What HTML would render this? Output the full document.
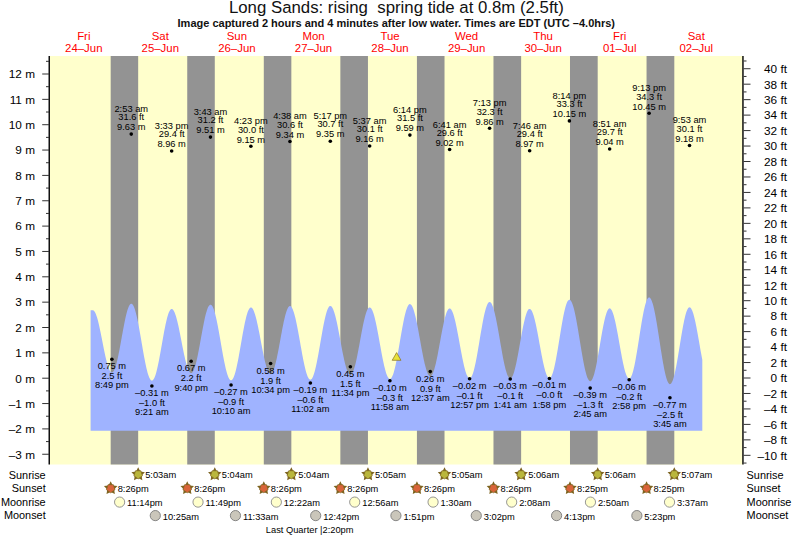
<!DOCTYPE html><html><head><meta charset="utf-8"><style>html,body{margin:0;padding:0;background:#fff;width:793px;height:538px;overflow:hidden}svg{display:block}text{font-family:"Liberation Sans",sans-serif}</style></head><body>
<svg width="793" height="538" viewBox="0 0 793 538">
<rect x="0" y="0" width="793" height="538" fill="#fff"/>
<rect x="49.5" y="56.0" width="693.5" height="408.5" fill="#ffffcc"/>
<rect x="110.68" y="56.0" width="27.49" height="408.5" fill="#939393"/>
<rect x="187.24" y="56.0" width="27.54" height="408.5" fill="#939393"/>
<rect x="263.80" y="56.0" width="27.54" height="408.5" fill="#939393"/>
<rect x="340.36" y="56.0" width="27.59" height="408.5" fill="#939393"/>
<rect x="416.92" y="56.0" width="27.59" height="408.5" fill="#939393"/>
<rect x="493.48" y="56.0" width="27.65" height="408.5" fill="#939393"/>
<rect x="569.99" y="56.0" width="27.70" height="408.5" fill="#939393"/>
<rect x="646.55" y="56.0" width="27.75" height="408.5" fill="#939393"/>
<path d="M90.60,430.80 L90.60,310.27 91.13,310.27 91.66,310.27 92.20,310.27 92.73,310.27 93.26,310.35 93.79,310.67 94.32,311.23 94.86,312.01 95.39,313.02 95.92,314.25 96.45,315.68 96.98,317.31 97.51,319.12 98.05,321.11 98.58,323.25 99.11,325.52 99.64,327.92 100.17,330.42 100.71,333.00 101.24,335.65 101.77,338.34 102.30,341.06 102.83,343.77 103.37,346.47 103.90,349.13 104.43,351.73 104.96,354.25 105.49,356.67 106.03,358.97 106.56,361.14 107.09,363.15 107.62,365.00 108.15,366.67 108.69,368.15 109.22,369.41 109.75,370.47 110.28,371.30 110.81,371.90 111.34,372.27 111.88,372.40 112.41,372.29 112.94,371.92 113.47,371.30 114.00,370.43 114.54,369.32 115.07,367.98 115.60,366.41 116.13,364.64 116.66,362.66 117.20,360.51 117.73,358.18 118.26,355.71 118.79,353.10 119.32,350.39 119.86,347.58 120.39,344.70 120.92,341.77 121.45,338.82 121.98,335.85 122.51,332.91 123.05,330.00 123.58,327.16 124.11,324.39 124.64,321.73 125.17,319.19 125.71,316.79 126.24,314.55 126.77,312.48 127.30,310.61 127.83,308.94 128.37,307.49 128.90,306.26 129.43,305.27 129.96,304.53 130.49,304.04 131.03,303.80 131.56,303.81 132.09,304.08 132.62,304.60 133.15,305.36 133.68,306.37 134.22,307.61 134.75,309.07 135.28,310.76 135.81,312.65 136.34,314.73 136.88,317.00 137.41,319.43 137.94,322.01 138.47,324.72 139.00,327.54 139.54,330.46 140.07,333.46 140.60,336.52 141.13,339.61 141.66,342.72 142.20,345.83 142.73,348.91 143.26,351.95 143.79,354.92 144.32,357.81 144.86,360.60 145.39,363.27 145.92,365.80 146.45,368.17 146.98,370.37 147.51,372.39 148.05,374.21 148.58,375.82 149.11,377.21 149.64,378.37 150.17,379.30 150.71,379.98 151.24,380.41 151.77,380.59 152.30,380.52 152.83,380.19 153.37,379.61 153.90,378.78 154.43,377.71 154.96,376.41 155.49,374.88 156.03,373.13 156.56,371.18 157.09,369.04 157.62,366.73 158.15,364.27 158.68,361.66 159.22,358.94 159.75,356.11 160.28,353.20 160.81,350.23 161.34,347.22 161.88,344.20 162.41,341.18 162.94,338.18 163.47,335.24 164.00,332.36 164.54,329.56 165.07,326.88 165.60,324.33 166.13,321.92 166.66,319.67 167.20,317.60 167.73,315.73 168.26,314.06 168.79,312.62 169.32,311.40 169.86,310.42 170.39,309.69 170.92,309.20 171.45,308.97 171.98,308.99 172.51,309.25 173.05,309.74 173.58,310.46 174.11,311.40 174.64,312.56 175.17,313.93 175.71,315.50 176.24,317.25 176.77,319.18 177.30,321.27 177.83,323.50 178.37,325.86 178.90,328.33 179.43,330.89 179.96,333.53 180.49,336.22 181.03,338.95 181.56,341.69 182.09,344.43 182.62,347.14 183.15,349.81 183.68,352.41 184.22,354.93 184.75,357.34 185.28,359.64 185.81,361.80 186.34,363.81 186.88,365.64 187.41,367.30 187.94,368.77 188.47,370.03 189.00,371.08 189.54,371.91 190.07,372.51 190.60,372.88 191.13,373.02 191.66,372.91 192.20,372.55 192.73,371.94 193.26,371.08 193.79,369.97 194.32,368.64 194.85,367.08 195.39,365.31 195.92,363.34 196.45,361.19 196.98,358.87 197.51,356.40 198.05,353.80 198.58,351.08 199.11,348.28 199.64,345.41 200.17,342.48 200.71,339.53 201.24,336.57 201.77,333.64 202.30,330.74 202.83,327.90 203.37,325.14 203.90,322.49 204.43,319.96 204.96,317.57 205.49,315.34 206.03,313.28 206.56,311.42 207.09,309.76 207.62,308.32 208.15,307.11 208.68,306.14 209.22,305.42 209.75,304.94 210.28,304.72 210.81,304.75 211.34,305.03 211.88,305.56 212.41,306.33 212.94,307.34 213.47,308.59 214.00,310.05 214.54,311.73 215.07,313.61 215.60,315.69 216.13,317.94 216.66,320.35 217.20,322.90 217.73,325.59 218.26,328.39 218.79,331.28 219.32,334.25 219.85,337.26 220.39,340.32 220.92,343.39 221.45,346.45 221.98,349.49 222.51,352.48 223.05,355.40 223.58,358.24 224.11,360.97 224.64,363.59 225.17,366.06 225.71,368.38 226.24,370.53 226.77,372.49 227.30,374.26 227.83,375.82 228.37,377.15 228.90,378.26 229.43,379.13 229.96,379.76 230.49,380.15 231.03,380.29 231.56,380.17 232.09,379.80 232.62,379.17 233.15,378.29 233.68,377.17 234.22,375.81 234.75,374.22 235.28,372.42 235.81,370.42 236.34,368.22 236.88,365.86 237.41,363.34 237.94,360.68 238.47,357.90 239.00,355.03 239.54,352.07 240.07,349.06 240.60,346.00 241.13,342.94 241.66,339.88 242.20,336.85 242.73,333.87 243.26,330.96 243.79,328.14 244.32,325.43 244.85,322.86 245.39,320.43 245.92,318.17 246.45,316.09 246.98,314.21 247.51,312.54 248.05,311.10 248.58,309.88 249.11,308.91 249.64,308.18 250.17,307.71 250.71,307.50 251.24,307.54 251.77,307.81 252.30,308.32 252.83,309.07 253.37,310.04 253.90,311.23 254.43,312.63 254.96,314.23 255.49,316.02 256.02,317.98 256.56,320.11 257.09,322.39 257.62,324.79 258.15,327.31 258.68,329.92 259.22,332.62 259.75,335.36 260.28,338.15 260.81,340.95 261.34,343.75 261.88,346.53 262.41,349.27 262.94,351.94 263.47,354.53 264.00,357.03 264.54,359.40 265.07,361.64 265.60,363.73 266.13,365.65 266.66,367.39 267.20,368.95 267.73,370.29 268.26,371.43 268.79,372.34 269.32,373.03 269.85,373.48 270.39,373.70 270.92,373.67 271.45,373.40 271.98,372.88 272.51,372.11 273.05,371.10 273.58,369.86 274.11,368.39 274.64,366.71 275.17,364.84 275.71,362.77 276.24,360.54 276.77,358.15 277.30,355.62 277.83,352.98 278.37,350.24 278.90,347.42 279.43,344.55 279.96,341.64 280.49,338.72 281.02,335.80 281.56,332.92 282.09,330.09 282.62,327.33 283.15,324.67 283.68,322.11 284.22,319.69 284.75,317.43 285.28,315.32 285.81,313.40 286.34,311.68 286.88,310.17 287.41,308.88 287.94,307.82 288.47,307.00 289.00,306.42 289.54,306.09 290.07,306.02 290.60,306.19 291.13,306.61 291.66,307.27 292.20,308.17 292.73,309.30 293.26,310.66 293.79,312.23 294.32,314.00 294.85,315.97 295.39,318.12 295.92,320.44 296.45,322.90 296.98,325.50 297.51,328.22 298.05,331.03 298.58,333.92 299.11,336.87 299.64,339.86 300.17,342.87 300.71,345.88 301.24,348.87 301.77,351.82 302.30,354.71 302.83,357.52 303.37,360.24 303.90,362.83 304.43,365.29 304.96,367.60 305.49,369.75 306.02,371.72 306.56,373.49 307.09,375.06 307.62,376.41 308.15,377.53 308.68,378.43 309.22,379.08 309.75,379.50 310.28,379.66 310.81,379.58 311.34,379.24 311.88,378.64 312.41,377.80 312.94,376.70 313.47,375.37 314.00,373.81 314.54,372.03 315.07,370.05 315.60,367.87 316.13,365.52 316.66,363.01 317.19,360.36 317.73,357.58 318.26,354.70 318.79,351.74 319.32,348.72 319.85,345.65 320.39,342.56 320.92,339.48 321.45,336.42 321.98,333.40 322.51,330.45 323.05,327.58 323.58,324.82 324.11,322.19 324.64,319.71 325.17,317.38 325.71,315.24 326.24,313.28 326.77,311.54 327.30,310.01 327.83,308.72 328.37,307.66 328.90,306.85 329.43,306.29 329.96,305.99 330.49,305.95 331.02,306.15 331.56,306.59 332.09,307.26 332.62,308.16 333.15,309.28 333.68,310.63 334.22,312.17 334.75,313.91 335.28,315.84 335.81,317.94 336.34,320.19 336.88,322.58 337.41,325.09 337.94,327.71 338.47,330.42 339.00,333.20 339.54,336.03 340.07,338.88 340.60,341.75 341.13,344.61 341.66,347.43 342.19,350.21 342.73,352.92 343.26,355.54 343.79,358.06 344.32,360.45 344.85,362.70 345.39,364.80 345.92,366.73 346.45,368.47 346.98,370.02 347.51,371.36 348.05,372.49 348.58,373.39 349.11,374.07 349.64,374.51 350.17,374.71 350.71,374.67 351.24,374.38 351.77,373.84 352.30,373.05 352.83,372.03 353.37,370.77 353.90,369.29 354.43,367.60 354.96,365.71 355.49,363.63 356.02,361.39 356.56,358.99 357.09,356.46 357.62,353.82 358.15,351.07 358.68,348.26 359.22,345.39 359.75,342.48 360.28,339.57 360.81,336.67 361.34,333.80 361.88,330.98 362.41,328.25 362.94,325.60 363.47,323.07 364.00,320.68 364.54,318.44 365.07,316.37 365.60,314.49 366.13,312.80 366.66,311.33 367.19,310.07 367.73,309.05 368.26,308.27 368.79,307.74 369.32,307.46 369.85,307.42 370.39,307.63 370.92,308.09 371.45,308.78 371.98,309.71 372.51,310.86 373.05,312.23 373.58,313.82 374.11,315.60 374.64,317.58 375.17,319.72 375.71,322.03 376.24,324.48 376.77,327.05 377.30,329.74 377.83,332.52 378.36,335.37 378.90,338.27 379.43,341.21 379.96,344.16 380.49,347.11 381.02,350.02 381.56,352.89 382.09,355.70 382.62,358.42 383.15,361.04 383.68,363.53 384.22,365.89 384.75,368.09 385.28,370.12 385.81,371.97 386.34,373.63 386.88,375.07 387.41,376.30 387.94,377.31 388.47,378.08 389.00,378.62 389.54,378.91 390.07,378.96 390.60,378.76 391.13,378.29 391.66,377.57 392.19,376.59 392.73,375.37 393.26,373.92 393.79,372.24 394.32,370.34 394.85,368.24 395.39,365.96 395.92,363.50 396.45,360.89 396.98,358.15 397.51,355.29 398.05,352.34 398.58,349.30 399.11,346.22 399.64,343.10 400.17,339.97 400.71,336.85 401.24,333.77 401.77,330.74 402.30,327.78 402.83,324.92 403.36,322.18 403.90,319.57 404.43,317.11 404.96,314.83 405.49,312.73 406.02,310.83 406.56,309.15 407.09,307.69 407.62,306.47 408.15,305.49 408.68,304.77 409.22,304.30 409.75,304.09 410.28,304.14 410.81,304.43 411.34,304.97 411.88,305.74 412.41,306.74 412.94,307.96 413.47,309.40 414.00,311.05 414.54,312.90 415.07,314.93 415.60,317.12 416.13,319.48 416.66,321.97 417.19,324.58 417.73,327.30 418.26,330.11 418.79,332.98 419.32,335.90 419.85,338.85 420.39,341.81 420.92,344.75 421.45,347.67 421.98,350.53 422.51,353.33 423.05,356.03 423.58,358.63 424.11,361.11 424.64,363.44 425.17,365.62 425.71,367.62 426.24,369.44 426.77,371.07 427.30,372.48 427.83,373.68 428.36,374.65 428.90,375.39 429.43,375.89 429.96,376.15 430.49,376.17 431.02,375.94 431.56,375.45 432.09,374.72 432.62,373.75 433.15,372.55 433.68,371.12 434.22,369.47 434.75,367.62 435.28,365.59 435.81,363.38 436.34,361.02 436.88,358.51 437.41,355.89 437.94,353.16 438.47,350.35 439.00,347.49 439.53,344.58 440.07,341.66 440.60,338.74 441.13,335.86 441.66,333.01 442.19,330.24 442.73,327.56 443.26,324.99 443.79,322.55 444.32,320.25 444.85,318.12 445.39,316.17 445.92,314.42 446.45,312.87 446.98,311.54 447.51,310.45 448.05,309.59 448.58,308.97 449.11,308.60 449.64,308.49 450.17,308.62 450.71,308.99 451.24,309.61 451.77,310.46 452.30,311.54 452.83,312.85 453.36,314.36 453.90,316.09 454.43,318.00 454.96,320.09 455.49,322.34 456.02,324.74 456.56,327.27 457.09,329.91 457.62,332.65 458.15,335.46 458.68,338.33 459.22,341.23 459.75,344.15 460.28,347.06 460.81,349.95 461.34,352.79 461.88,355.57 462.41,358.26 462.94,360.85 463.47,363.32 464.00,365.65 464.53,367.82 465.07,369.82 465.60,371.64 466.13,373.26 466.66,374.67 467.19,375.87 467.73,376.83 468.26,377.57 468.79,378.06 469.32,378.32 469.85,378.33 470.39,378.07 470.92,377.55 471.45,376.77 471.98,375.73 472.51,374.45 473.05,372.93 473.58,371.17 474.11,369.20 474.64,367.03 475.17,364.67 475.71,362.14 476.24,359.46 476.77,356.64 477.30,353.70 477.83,350.68 478.36,347.58 478.90,344.42 479.43,341.24 479.96,338.05 480.49,334.87 481.02,331.74 481.56,328.66 482.09,325.66 482.62,322.76 483.15,319.98 483.68,317.35 484.22,314.87 484.75,312.57 485.28,310.47 485.81,308.57 486.34,306.89 486.88,305.45 487.41,304.24 487.94,303.29 488.47,302.60 489.00,302.16 489.53,302.00 490.07,302.09 490.60,302.44 491.13,303.03 491.66,303.86 492.19,304.94 492.73,306.24 493.26,307.77 493.79,309.51 494.32,311.45 494.85,313.59 495.39,315.89 495.92,318.36 496.45,320.96 496.98,323.70 497.51,326.54 498.05,329.48 498.58,332.48 499.11,335.53 499.64,338.62 500.17,341.71 500.70,344.80 501.24,347.85 501.77,350.86 502.30,353.79 502.83,356.64 503.36,359.38 503.90,361.99 504.43,364.46 504.96,366.77 505.49,368.91 506.02,370.86 506.56,372.60 507.09,374.14 507.62,375.45 508.15,376.53 508.68,377.38 509.22,377.98 509.75,378.33 510.28,378.43 510.81,378.28 511.34,377.87 511.88,377.21 512.41,376.29 512.94,375.14 513.47,373.75 514.00,372.14 514.53,370.32 515.07,368.30 515.60,366.10 516.13,363.73 516.66,361.22 517.19,358.57 517.73,355.81 518.26,352.97 518.79,350.05 519.32,347.09 519.85,344.10 520.39,341.10 520.92,338.13 521.45,335.20 521.98,332.33 522.51,329.54 523.05,326.86 523.58,324.30 524.11,321.89 524.64,319.64 525.17,317.56 525.70,315.68 526.24,314.01 526.77,312.55 527.30,311.33 527.83,310.35 528.36,309.61 528.90,309.12 529.43,308.89 529.96,308.92 530.49,309.19 531.02,309.71 531.56,310.48 532.09,311.47 532.62,312.70 533.15,314.15 533.68,315.80 534.22,317.66 534.75,319.70 535.28,321.91 535.81,324.27 536.34,326.78 536.88,329.40 537.41,332.12 537.94,334.93 538.47,337.79 539.00,340.70 539.53,343.63 540.07,346.56 540.60,349.47 541.13,352.33 541.66,355.13 542.19,357.85 542.73,360.47 543.26,362.97 543.79,365.33 544.32,367.53 544.85,369.57 545.39,371.41 545.92,373.06 546.45,374.50 546.98,375.72 547.51,376.71 548.05,377.46 548.58,377.97 549.11,378.24 549.64,378.25 550.17,378.00 550.70,377.47 551.24,376.68 551.77,375.62 552.30,374.31 552.83,372.75 553.36,370.95 553.90,368.93 554.43,366.70 554.96,364.28 555.49,361.69 556.02,358.93 556.56,356.04 557.09,353.02 557.62,349.91 558.15,346.72 558.68,343.48 559.22,340.21 559.75,336.93 560.28,333.66 560.81,330.43 561.34,327.27 561.87,324.18 562.41,321.20 562.94,318.34 563.47,315.62 564.00,313.07 564.53,310.70 565.07,308.53 565.60,306.57 566.13,304.84 566.66,303.34 567.19,302.10 567.73,301.11 568.26,300.39 568.79,299.94 569.32,299.76 569.85,299.85 570.39,300.20 570.92,300.81 571.45,301.68 571.98,302.80 572.51,304.17 573.05,305.77 573.58,307.59 574.11,309.62 574.64,311.86 575.17,314.27 575.70,316.86 576.24,319.60 576.77,322.48 577.30,325.47 577.83,328.56 578.36,331.73 578.90,334.95 579.43,338.21 579.96,341.48 580.49,344.75 581.02,347.98 581.56,351.17 582.09,354.30 582.62,357.33 583.15,360.25 583.68,363.05 584.22,365.70 584.75,368.18 585.28,370.49 585.81,372.61 586.34,374.51 586.87,376.20 587.41,377.66 587.94,378.87 588.47,379.84 589.00,380.56 589.53,381.01 590.07,381.21 590.60,381.14 591.13,380.80 591.66,380.19 592.19,379.33 592.73,378.21 593.26,376.84 593.79,375.24 594.32,373.41 594.85,371.37 595.39,369.14 595.92,366.73 596.45,364.15 596.98,361.43 597.51,358.59 598.05,355.65 598.58,352.62 599.11,349.54 599.64,346.43 600.17,343.30 600.70,340.18 601.24,337.10 601.77,334.07 602.30,331.12 602.83,328.27 603.36,325.55 603.90,322.96 604.43,320.54 604.96,318.30 605.49,316.25 606.02,314.41 606.56,312.79 607.09,311.41 607.62,310.28 608.15,309.40 608.68,308.78 609.22,308.42 609.75,308.34 610.28,308.51 610.81,308.94 611.34,309.63 611.87,310.56 612.41,311.74 612.94,313.14 613.47,314.77 614.00,316.61 614.53,318.65 615.07,320.87 615.60,323.26 616.13,325.79 616.66,328.45 617.19,331.23 617.73,334.09 618.26,337.03 618.79,340.01 619.32,343.01 619.85,346.02 620.39,349.01 620.92,351.96 621.45,354.85 621.98,357.66 622.51,360.36 623.04,362.94 623.58,365.37 624.11,367.65 624.64,369.74 625.17,371.65 625.70,373.35 626.24,374.83 626.77,376.08 627.30,377.09 627.83,377.86 628.36,378.37 628.90,378.63 629.43,378.63 629.96,378.34 630.49,377.78 631.02,376.93 631.56,375.81 632.09,374.43 632.62,372.79 633.15,370.91 633.68,368.79 634.22,366.46 634.75,363.93 635.28,361.22 635.81,358.35 636.34,355.33 636.87,352.20 637.41,348.96 637.94,345.65 638.47,342.28 639.00,338.88 639.53,335.48 640.07,332.10 640.60,328.75 641.13,325.48 641.66,322.29 642.19,319.21 642.73,316.26 643.26,313.47 643.79,310.85 644.32,308.42 644.85,306.20 645.39,304.20 645.92,302.44 646.45,300.93 646.98,299.68 647.51,298.70 648.04,298.00 648.58,297.57 649.11,297.44 649.64,297.58 650.17,298.00 650.70,298.70 651.24,299.66 651.77,300.89 652.30,302.38 652.83,304.11 653.36,306.08 653.90,308.28 654.43,310.68 654.96,313.27 655.49,316.04 656.02,318.97 656.56,322.05 657.09,325.24 657.62,328.53 658.15,331.90 658.68,335.33 659.22,338.79 659.75,342.26 660.28,345.73 660.81,349.16 661.34,352.55 661.87,355.85 662.41,359.06 662.94,362.15 663.47,365.10 664.00,367.90 664.53,370.52 665.07,372.96 665.60,375.18 666.13,377.19 666.66,378.96 667.19,380.48 667.73,381.75 668.26,382.76 668.79,383.50 669.32,383.96 669.85,384.15 670.39,384.05 670.92,383.68 671.45,383.03 671.98,382.11 672.51,380.92 673.04,379.48 673.58,377.79 674.11,375.86 674.64,373.72 675.17,371.37 675.70,368.84 676.24,366.13 676.77,363.28 677.30,360.30 677.83,357.21 678.36,354.04 678.90,350.81 679.43,347.54 679.96,344.25 680.49,340.98 681.02,337.74 681.56,334.56 682.09,331.46 682.62,328.47 683.15,325.60 683.68,322.88 684.21,320.32 684.75,317.95 685.28,315.78 685.81,313.83 686.34,312.11 686.87,310.64 687.41,309.42 687.94,308.47 688.47,307.78 689.00,307.38 689.53,307.25 690.07,307.40 690.60,307.80 691.13,308.46 691.66,309.38 692.19,310.54 692.73,311.94 693.26,313.56 693.79,315.40 694.32,317.45 694.85,319.68 695.39,322.08 695.92,324.63 696.45,327.32 696.98,330.13 697.51,333.02 698.04,335.99 698.58,339.01 699.11,342.06 699.64,345.12 700.17,348.16 700.70,351.16 701.24,354.11 701.77,356.97 702.30,359.72 L702.30,430.80 Z" fill="#9fb3ff"/>
<rect x="48.5" y="56.0" width="1.5" height="408.5" fill="#111"/>
<rect x="742.2" y="56.0" width="1.5" height="408.5" fill="#111"/>
<rect x="42.2" y="453.75" width="7" height="1" fill="#333"/>
<text x="35" y="458.6" font-size="11.8" text-anchor="end" fill="#000">–3 m</text>
<rect x="42.2" y="428.40" width="7" height="1" fill="#333"/>
<text x="35" y="433.2" font-size="11.8" text-anchor="end" fill="#000">–2 m</text>
<rect x="42.2" y="403.05" width="7" height="1" fill="#333"/>
<text x="35" y="407.9" font-size="11.8" text-anchor="end" fill="#000">–1 m</text>
<rect x="42.2" y="377.70" width="7" height="1" fill="#333"/>
<text x="35" y="382.5" font-size="11.8" text-anchor="end" fill="#000">0 m</text>
<rect x="42.2" y="352.35" width="7" height="1" fill="#333"/>
<text x="35" y="357.1" font-size="11.8" text-anchor="end" fill="#000">1 m</text>
<rect x="42.2" y="327.00" width="7" height="1" fill="#333"/>
<text x="35" y="331.8" font-size="11.8" text-anchor="end" fill="#000">2 m</text>
<rect x="42.2" y="301.65" width="7" height="1" fill="#333"/>
<text x="35" y="306.4" font-size="11.8" text-anchor="end" fill="#000">3 m</text>
<rect x="42.2" y="276.30" width="7" height="1" fill="#333"/>
<text x="35" y="281.1" font-size="11.8" text-anchor="end" fill="#000">4 m</text>
<rect x="42.2" y="250.95" width="7" height="1" fill="#333"/>
<text x="35" y="255.8" font-size="11.8" text-anchor="end" fill="#000">5 m</text>
<rect x="42.2" y="225.60" width="7" height="1" fill="#333"/>
<text x="35" y="230.4" font-size="11.8" text-anchor="end" fill="#000">6 m</text>
<rect x="42.2" y="200.25" width="7" height="1" fill="#333"/>
<text x="35" y="205.0" font-size="11.8" text-anchor="end" fill="#000">7 m</text>
<rect x="42.2" y="174.90" width="7" height="1" fill="#333"/>
<text x="35" y="179.7" font-size="11.8" text-anchor="end" fill="#000">8 m</text>
<rect x="42.2" y="149.55" width="7" height="1" fill="#333"/>
<text x="35" y="154.3" font-size="11.8" text-anchor="end" fill="#000">9 m</text>
<rect x="42.2" y="124.20" width="7" height="1" fill="#333"/>
<text x="35" y="129.0" font-size="11.8" text-anchor="end" fill="#000">10 m</text>
<rect x="42.2" y="98.85" width="7" height="1" fill="#333"/>
<text x="35" y="103.6" font-size="11.8" text-anchor="end" fill="#000">11 m</text>
<rect x="42.2" y="73.50" width="7" height="1" fill="#333"/>
<text x="35" y="78.3" font-size="11.8" text-anchor="end" fill="#000">12 m</text>
<rect x="46" y="441.07" width="3" height="1" fill="#333"/>
<rect x="46" y="415.73" width="3" height="1" fill="#333"/>
<rect x="46" y="390.38" width="3" height="1" fill="#333"/>
<rect x="46" y="365.02" width="3" height="1" fill="#333"/>
<rect x="46" y="339.67" width="3" height="1" fill="#333"/>
<rect x="46" y="314.32" width="3" height="1" fill="#333"/>
<rect x="46" y="288.97" width="3" height="1" fill="#333"/>
<rect x="46" y="263.62" width="3" height="1" fill="#333"/>
<rect x="46" y="238.27" width="3" height="1" fill="#333"/>
<rect x="46" y="212.92" width="3" height="1" fill="#333"/>
<rect x="46" y="187.57" width="3" height="1" fill="#333"/>
<rect x="46" y="162.22" width="3" height="1" fill="#333"/>
<rect x="46" y="136.87" width="3" height="1" fill="#333"/>
<rect x="46" y="111.52" width="3" height="1" fill="#333"/>
<rect x="46" y="86.17" width="3" height="1" fill="#333"/>
<rect x="46" y="60.82" width="3" height="1" fill="#333"/>
<rect x="743.5" y="462.55" width="3" height="1" fill="#333"/>
<rect x="743.5" y="454.82" width="7" height="1" fill="#333"/>
<text x="787" y="459.6" font-size="11.8" text-anchor="end" fill="#000">–10 ft</text>
<rect x="743.5" y="447.09" width="3" height="1" fill="#333"/>
<rect x="743.5" y="439.36" width="7" height="1" fill="#333"/>
<text x="787" y="444.2" font-size="11.8" text-anchor="end" fill="#000">–8 ft</text>
<rect x="743.5" y="431.62" width="3" height="1" fill="#333"/>
<rect x="743.5" y="423.89" width="7" height="1" fill="#333"/>
<text x="787" y="428.7" font-size="11.8" text-anchor="end" fill="#000">–6 ft</text>
<rect x="743.5" y="416.16" width="3" height="1" fill="#333"/>
<rect x="743.5" y="408.43" width="7" height="1" fill="#333"/>
<text x="787" y="413.2" font-size="11.8" text-anchor="end" fill="#000">–4 ft</text>
<rect x="743.5" y="400.70" width="3" height="1" fill="#333"/>
<rect x="743.5" y="392.96" width="7" height="1" fill="#333"/>
<text x="787" y="397.8" font-size="11.8" text-anchor="end" fill="#000">–2 ft</text>
<rect x="743.5" y="385.23" width="3" height="1" fill="#333"/>
<rect x="743.5" y="377.50" width="7" height="1" fill="#333"/>
<text x="787" y="382.3" font-size="11.8" text-anchor="end" fill="#000">0 ft</text>
<rect x="743.5" y="369.77" width="3" height="1" fill="#333"/>
<rect x="743.5" y="362.04" width="7" height="1" fill="#333"/>
<text x="787" y="366.8" font-size="11.8" text-anchor="end" fill="#000">2 ft</text>
<rect x="743.5" y="354.30" width="3" height="1" fill="#333"/>
<rect x="743.5" y="346.57" width="7" height="1" fill="#333"/>
<text x="787" y="351.4" font-size="11.8" text-anchor="end" fill="#000">4 ft</text>
<rect x="743.5" y="338.84" width="3" height="1" fill="#333"/>
<rect x="743.5" y="331.11" width="7" height="1" fill="#333"/>
<text x="787" y="335.9" font-size="11.8" text-anchor="end" fill="#000">6 ft</text>
<rect x="743.5" y="323.38" width="3" height="1" fill="#333"/>
<rect x="743.5" y="315.64" width="7" height="1" fill="#333"/>
<text x="787" y="320.4" font-size="11.8" text-anchor="end" fill="#000">8 ft</text>
<rect x="743.5" y="307.91" width="3" height="1" fill="#333"/>
<rect x="743.5" y="300.18" width="7" height="1" fill="#333"/>
<text x="787" y="305.0" font-size="11.8" text-anchor="end" fill="#000">10 ft</text>
<rect x="743.5" y="292.45" width="3" height="1" fill="#333"/>
<rect x="743.5" y="284.72" width="7" height="1" fill="#333"/>
<text x="787" y="289.5" font-size="11.8" text-anchor="end" fill="#000">12 ft</text>
<rect x="743.5" y="276.98" width="3" height="1" fill="#333"/>
<rect x="743.5" y="269.25" width="7" height="1" fill="#333"/>
<text x="787" y="274.1" font-size="11.8" text-anchor="end" fill="#000">14 ft</text>
<rect x="743.5" y="261.52" width="3" height="1" fill="#333"/>
<rect x="743.5" y="253.79" width="7" height="1" fill="#333"/>
<text x="787" y="258.6" font-size="11.8" text-anchor="end" fill="#000">16 ft</text>
<rect x="743.5" y="246.06" width="3" height="1" fill="#333"/>
<rect x="743.5" y="238.32" width="7" height="1" fill="#333"/>
<text x="787" y="243.1" font-size="11.8" text-anchor="end" fill="#000">18 ft</text>
<rect x="743.5" y="230.59" width="3" height="1" fill="#333"/>
<rect x="743.5" y="222.86" width="7" height="1" fill="#333"/>
<text x="787" y="227.7" font-size="11.8" text-anchor="end" fill="#000">20 ft</text>
<rect x="743.5" y="215.13" width="3" height="1" fill="#333"/>
<rect x="743.5" y="207.40" width="7" height="1" fill="#333"/>
<text x="787" y="212.2" font-size="11.8" text-anchor="end" fill="#000">22 ft</text>
<rect x="743.5" y="199.66" width="3" height="1" fill="#333"/>
<rect x="743.5" y="191.93" width="7" height="1" fill="#333"/>
<text x="787" y="196.7" font-size="11.8" text-anchor="end" fill="#000">24 ft</text>
<rect x="743.5" y="184.20" width="3" height="1" fill="#333"/>
<rect x="743.5" y="176.47" width="7" height="1" fill="#333"/>
<text x="787" y="181.3" font-size="11.8" text-anchor="end" fill="#000">26 ft</text>
<rect x="743.5" y="168.74" width="3" height="1" fill="#333"/>
<rect x="743.5" y="161.00" width="7" height="1" fill="#333"/>
<text x="787" y="165.8" font-size="11.8" text-anchor="end" fill="#000">28 ft</text>
<rect x="743.5" y="153.27" width="3" height="1" fill="#333"/>
<rect x="743.5" y="145.54" width="7" height="1" fill="#333"/>
<text x="787" y="150.3" font-size="11.8" text-anchor="end" fill="#000">30 ft</text>
<rect x="743.5" y="137.81" width="3" height="1" fill="#333"/>
<rect x="743.5" y="130.08" width="7" height="1" fill="#333"/>
<text x="787" y="134.9" font-size="11.8" text-anchor="end" fill="#000">32 ft</text>
<rect x="743.5" y="122.34" width="3" height="1" fill="#333"/>
<rect x="743.5" y="114.61" width="7" height="1" fill="#333"/>
<text x="787" y="119.4" font-size="11.8" text-anchor="end" fill="#000">34 ft</text>
<rect x="743.5" y="106.88" width="3" height="1" fill="#333"/>
<rect x="743.5" y="99.15" width="7" height="1" fill="#333"/>
<text x="787" y="103.9" font-size="11.8" text-anchor="end" fill="#000">36 ft</text>
<rect x="743.5" y="91.42" width="3" height="1" fill="#333"/>
<rect x="743.5" y="83.68" width="7" height="1" fill="#333"/>
<text x="787" y="88.5" font-size="11.8" text-anchor="end" fill="#000">38 ft</text>
<rect x="743.5" y="75.95" width="3" height="1" fill="#333"/>
<rect x="743.5" y="68.22" width="7" height="1" fill="#333"/>
<text x="787" y="73.0" font-size="11.8" text-anchor="end" fill="#000">40 ft</text>
<rect x="743.5" y="60.49" width="3" height="1" fill="#333"/>
<text x="396.4" y="12.9" font-size="16.8" text-anchor="middle" fill="#111" xml:space="preserve">Long Sands: rising  spring tide at 0.8m (2.5ft)</text>
<text x="396.3" y="27.1" font-size="11" font-weight="bold" text-anchor="middle" fill="#111">Image captured 2 hours and 4 minutes after low water. Times are EDT (UTC –4.0hrs)</text>
<text x="83.8" y="39.7" font-size="11.4" text-anchor="middle" fill="#ff0000">Fri</text>
<text x="83.8" y="51.6" font-size="11.4" text-anchor="middle" fill="#ff0000">24–Jun</text>
<text x="160.3" y="39.7" font-size="11.4" text-anchor="middle" fill="#ff0000">Sat</text>
<text x="160.3" y="51.6" font-size="11.4" text-anchor="middle" fill="#ff0000">25–Jun</text>
<text x="236.9" y="39.7" font-size="11.4" text-anchor="middle" fill="#ff0000">Sun</text>
<text x="236.9" y="51.6" font-size="11.4" text-anchor="middle" fill="#ff0000">26–Jun</text>
<text x="313.5" y="39.7" font-size="11.4" text-anchor="middle" fill="#ff0000">Mon</text>
<text x="313.5" y="51.6" font-size="11.4" text-anchor="middle" fill="#ff0000">27–Jun</text>
<text x="390.0" y="39.7" font-size="11.4" text-anchor="middle" fill="#ff0000">Tue</text>
<text x="390.0" y="51.6" font-size="11.4" text-anchor="middle" fill="#ff0000">28–Jun</text>
<text x="466.6" y="39.7" font-size="11.4" text-anchor="middle" fill="#ff0000">Wed</text>
<text x="466.6" y="51.6" font-size="11.4" text-anchor="middle" fill="#ff0000">29–Jun</text>
<text x="543.1" y="39.7" font-size="11.4" text-anchor="middle" fill="#ff0000">Thu</text>
<text x="543.1" y="51.6" font-size="11.4" text-anchor="middle" fill="#ff0000">30–Jun</text>
<text x="619.7" y="39.7" font-size="11.4" text-anchor="middle" fill="#ff0000">Fri</text>
<text x="619.7" y="51.6" font-size="11.4" text-anchor="middle" fill="#ff0000">01–Jul</text>
<text x="696.3" y="39.7" font-size="11.4" text-anchor="middle" fill="#ff0000">Sat</text>
<text x="696.3" y="51.6" font-size="11.4" text-anchor="middle" fill="#ff0000">02–Jul</text>
<circle cx="111.91" cy="359.19" r="1.8" fill="#000"/>
<text x="111.91" y="369.19" font-size="9.3" text-anchor="middle" fill="#000">0.75 m</text>
<text x="111.91" y="379.19" font-size="9.3" text-anchor="middle" fill="#000">2.5 ft</text>
<text x="111.91" y="388.49" font-size="9.3" text-anchor="middle" fill="#000">8:49 pm</text>
<circle cx="131.26" cy="134.08" r="1.8" fill="#000"/>
<text x="131.26" y="112.08" font-size="9.3" text-anchor="middle" fill="#000">2:53 am</text>
<text x="131.26" y="120.38" font-size="9.3" text-anchor="middle" fill="#000">31.6 ft</text>
<text x="131.26" y="130.38" font-size="9.3" text-anchor="middle" fill="#000">9.63 m</text>
<circle cx="151.89" cy="386.06" r="1.8" fill="#000"/>
<text x="151.89" y="396.06" font-size="9.3" text-anchor="middle" fill="#000">–0.31 m</text>
<text x="151.89" y="406.06" font-size="9.3" text-anchor="middle" fill="#000">–1.0 ft</text>
<text x="151.89" y="415.36" font-size="9.3" text-anchor="middle" fill="#000">9:21 am</text>
<circle cx="171.66" cy="151.06" r="1.8" fill="#000"/>
<text x="171.66" y="129.06" font-size="9.3" text-anchor="middle" fill="#000">3:33 pm</text>
<text x="171.66" y="137.36" font-size="9.3" text-anchor="middle" fill="#000">29.4 ft</text>
<text x="171.66" y="147.36" font-size="9.3" text-anchor="middle" fill="#000">8.96 m</text>
<circle cx="191.18" cy="361.22" r="1.8" fill="#000"/>
<text x="191.18" y="371.22" font-size="9.3" text-anchor="middle" fill="#000">0.67 m</text>
<text x="191.18" y="381.22" font-size="9.3" text-anchor="middle" fill="#000">2.2 ft</text>
<text x="191.18" y="390.52" font-size="9.3" text-anchor="middle" fill="#000">9:40 pm</text>
<circle cx="210.48" cy="137.12" r="1.8" fill="#000"/>
<text x="210.48" y="115.12" font-size="9.3" text-anchor="middle" fill="#000">3:43 am</text>
<text x="210.48" y="123.42" font-size="9.3" text-anchor="middle" fill="#000">31.2 ft</text>
<text x="210.48" y="133.42" font-size="9.3" text-anchor="middle" fill="#000">9.51 m</text>
<circle cx="231.05" cy="385.04" r="1.8" fill="#000"/>
<text x="231.05" y="395.04" font-size="9.3" text-anchor="middle" fill="#000">–0.27 m</text>
<text x="231.05" y="405.04" font-size="9.3" text-anchor="middle" fill="#000">–0.9 ft</text>
<text x="231.05" y="414.34" font-size="9.3" text-anchor="middle" fill="#000">10:10 am</text>
<circle cx="250.88" cy="146.25" r="1.8" fill="#000"/>
<text x="250.88" y="124.25" font-size="9.3" text-anchor="middle" fill="#000">4:23 pm</text>
<text x="250.88" y="132.55" font-size="9.3" text-anchor="middle" fill="#000">30.0 ft</text>
<text x="250.88" y="142.55" font-size="9.3" text-anchor="middle" fill="#000">9.15 m</text>
<circle cx="270.61" cy="363.50" r="1.8" fill="#000"/>
<text x="270.61" y="373.50" font-size="9.3" text-anchor="middle" fill="#000">0.58 m</text>
<text x="270.61" y="383.50" font-size="9.3" text-anchor="middle" fill="#000">1.9 ft</text>
<text x="270.61" y="392.80" font-size="9.3" text-anchor="middle" fill="#000">10:34 pm</text>
<circle cx="289.96" cy="141.43" r="1.8" fill="#000"/>
<text x="289.96" y="119.43" font-size="9.3" text-anchor="middle" fill="#000">4:38 am</text>
<text x="289.96" y="127.73" font-size="9.3" text-anchor="middle" fill="#000">30.6 ft</text>
<text x="289.96" y="137.73" font-size="9.3" text-anchor="middle" fill="#000">9.34 m</text>
<circle cx="310.38" cy="383.02" r="1.8" fill="#000"/>
<text x="310.38" y="393.02" font-size="9.3" text-anchor="middle" fill="#000">–0.19 m</text>
<text x="310.38" y="403.02" font-size="9.3" text-anchor="middle" fill="#000">–0.6 ft</text>
<text x="310.38" y="412.32" font-size="9.3" text-anchor="middle" fill="#000">11:02 am</text>
<circle cx="330.31" cy="141.18" r="1.8" fill="#000"/>
<text x="330.31" y="119.18" font-size="9.3" text-anchor="middle" fill="#000">5:17 pm</text>
<text x="330.31" y="127.48" font-size="9.3" text-anchor="middle" fill="#000">30.7 ft</text>
<text x="330.31" y="137.48" font-size="9.3" text-anchor="middle" fill="#000">9.35 m</text>
<circle cx="350.36" cy="366.79" r="1.8" fill="#000"/>
<text x="350.36" y="376.79" font-size="9.3" text-anchor="middle" fill="#000">0.45 m</text>
<text x="350.36" y="386.79" font-size="9.3" text-anchor="middle" fill="#000">1.5 ft</text>
<text x="350.36" y="396.09" font-size="9.3" text-anchor="middle" fill="#000">11:34 pm</text>
<circle cx="369.66" cy="145.99" r="1.8" fill="#000"/>
<text x="369.66" y="123.99" font-size="9.3" text-anchor="middle" fill="#000">5:37 am</text>
<text x="369.66" y="132.29" font-size="9.3" text-anchor="middle" fill="#000">30.1 ft</text>
<text x="369.66" y="142.29" font-size="9.3" text-anchor="middle" fill="#000">9.16 m</text>
<circle cx="389.91" cy="380.74" r="1.8" fill="#000"/>
<text x="389.91" y="390.74" font-size="9.3" text-anchor="middle" fill="#000">–0.10 m</text>
<text x="389.91" y="400.74" font-size="9.3" text-anchor="middle" fill="#000">–0.3 ft</text>
<text x="389.91" y="410.04" font-size="9.3" text-anchor="middle" fill="#000">11:58 am</text>
<circle cx="409.90" cy="135.09" r="1.8" fill="#000"/>
<text x="409.90" y="113.09" font-size="9.3" text-anchor="middle" fill="#000">6:14 pm</text>
<text x="409.90" y="121.39" font-size="9.3" text-anchor="middle" fill="#000">31.5 ft</text>
<text x="409.90" y="131.39" font-size="9.3" text-anchor="middle" fill="#000">9.59 m</text>
<circle cx="430.27" cy="371.61" r="1.8" fill="#000"/>
<text x="430.27" y="381.61" font-size="9.3" text-anchor="middle" fill="#000">0.26 m</text>
<text x="430.27" y="391.61" font-size="9.3" text-anchor="middle" fill="#000">0.9 ft</text>
<text x="430.27" y="400.91" font-size="9.3" text-anchor="middle" fill="#000">12:37 am</text>
<circle cx="449.62" cy="149.54" r="1.8" fill="#000"/>
<text x="449.62" y="127.54" font-size="9.3" text-anchor="middle" fill="#000">6:41 am</text>
<text x="449.62" y="135.84" font-size="9.3" text-anchor="middle" fill="#000">29.6 ft</text>
<text x="449.62" y="145.84" font-size="9.3" text-anchor="middle" fill="#000">9.02 m</text>
<circle cx="469.61" cy="378.71" r="1.8" fill="#000"/>
<text x="469.61" y="388.71" font-size="9.3" text-anchor="middle" fill="#000">–0.02 m</text>
<text x="469.61" y="398.71" font-size="9.3" text-anchor="middle" fill="#000">–0.1 ft</text>
<text x="469.61" y="408.01" font-size="9.3" text-anchor="middle" fill="#000">12:57 pm</text>
<circle cx="489.60" cy="128.25" r="1.8" fill="#000"/>
<text x="489.60" y="106.25" font-size="9.3" text-anchor="middle" fill="#000">7:13 pm</text>
<text x="489.60" y="114.55" font-size="9.3" text-anchor="middle" fill="#000">32.3 ft</text>
<text x="489.60" y="124.55" font-size="9.3" text-anchor="middle" fill="#000">9.86 m</text>
<circle cx="510.23" cy="378.96" r="1.8" fill="#000"/>
<text x="510.23" y="388.96" font-size="9.3" text-anchor="middle" fill="#000">–0.03 m</text>
<text x="510.23" y="398.96" font-size="9.3" text-anchor="middle" fill="#000">–0.1 ft</text>
<text x="510.23" y="408.26" font-size="9.3" text-anchor="middle" fill="#000">1:41 am</text>
<circle cx="529.64" cy="150.81" r="1.8" fill="#000"/>
<text x="529.64" y="128.81" font-size="9.3" text-anchor="middle" fill="#000">7:46 am</text>
<text x="529.64" y="137.11" font-size="9.3" text-anchor="middle" fill="#000">29.4 ft</text>
<text x="529.64" y="147.11" font-size="9.3" text-anchor="middle" fill="#000">8.97 m</text>
<circle cx="549.41" cy="378.45" r="1.8" fill="#000"/>
<text x="549.41" y="388.45" font-size="9.3" text-anchor="middle" fill="#000">–0.01 m</text>
<text x="549.41" y="398.45" font-size="9.3" text-anchor="middle" fill="#000">–0.0 ft</text>
<text x="549.41" y="407.75" font-size="9.3" text-anchor="middle" fill="#000">1:58 pm</text>
<circle cx="569.40" cy="120.90" r="1.8" fill="#000"/>
<text x="569.40" y="98.90" font-size="9.3" text-anchor="middle" fill="#000">8:14 pm</text>
<text x="569.40" y="107.20" font-size="9.3" text-anchor="middle" fill="#000">33.3 ft</text>
<text x="569.40" y="117.20" font-size="9.3" text-anchor="middle" fill="#000">10.15 m</text>
<circle cx="590.19" cy="388.09" r="1.8" fill="#000"/>
<text x="590.19" y="398.09" font-size="9.3" text-anchor="middle" fill="#000">–0.39 m</text>
<text x="590.19" y="408.09" font-size="9.3" text-anchor="middle" fill="#000">–1.3 ft</text>
<text x="590.19" y="417.39" font-size="9.3" text-anchor="middle" fill="#000">2:45 am</text>
<circle cx="609.65" cy="149.04" r="1.8" fill="#000"/>
<text x="609.65" y="127.04" font-size="9.3" text-anchor="middle" fill="#000">8:51 am</text>
<text x="609.65" y="135.34" font-size="9.3" text-anchor="middle" fill="#000">29.7 ft</text>
<text x="609.65" y="145.34" font-size="9.3" text-anchor="middle" fill="#000">9.04 m</text>
<circle cx="629.16" cy="379.72" r="1.8" fill="#000"/>
<text x="629.16" y="389.72" font-size="9.3" text-anchor="middle" fill="#000">–0.06 m</text>
<text x="629.16" y="399.72" font-size="9.3" text-anchor="middle" fill="#000">–0.2 ft</text>
<text x="629.16" y="409.02" font-size="9.3" text-anchor="middle" fill="#000">2:58 pm</text>
<circle cx="649.10" cy="113.29" r="1.8" fill="#000"/>
<text x="649.10" y="91.29" font-size="9.3" text-anchor="middle" fill="#000">9:13 pm</text>
<text x="649.10" y="99.59" font-size="9.3" text-anchor="middle" fill="#000">34.3 ft</text>
<text x="649.10" y="109.59" font-size="9.3" text-anchor="middle" fill="#000">10.45 m</text>
<circle cx="669.94" cy="397.72" r="1.8" fill="#000"/>
<text x="669.94" y="407.72" font-size="9.3" text-anchor="middle" fill="#000">–0.77 m</text>
<text x="669.94" y="417.72" font-size="9.3" text-anchor="middle" fill="#000">–2.5 ft</text>
<text x="669.94" y="427.02" font-size="9.3" text-anchor="middle" fill="#000">3:45 am</text>
<circle cx="689.51" cy="145.49" r="1.8" fill="#000"/>
<text x="689.51" y="123.49" font-size="9.3" text-anchor="middle" fill="#000">9:53 am</text>
<text x="689.51" y="131.79" font-size="9.3" text-anchor="middle" fill="#000">30.1 ft</text>
<text x="689.51" y="141.79" font-size="9.3" text-anchor="middle" fill="#000">9.18 m</text>
<path d="M392.2,360.3 L396.6,352.6 L401,360.3 Z" fill="#e8e23a" stroke="#8a7020" stroke-width="0.7"/>
<text x="45.7" y="478.9" font-size="10.9" text-anchor="end" fill="#000">Sunrise</text>
<text x="746.6" y="478.9" font-size="10.9" fill="#000">Sunrise</text>
<text x="45.7" y="492.3" font-size="10.9" text-anchor="end" fill="#000">Sunset</text>
<text x="746.6" y="492.3" font-size="10.9" fill="#000">Sunset</text>
<text x="45.7" y="505.7" font-size="10.9" text-anchor="end" fill="#000">Moonrise</text>
<text x="746.6" y="505.7" font-size="10.9" fill="#000">Moonrise</text>
<text x="45.7" y="519.4" font-size="10.9" text-anchor="end" fill="#000">Moonset</text>
<text x="746.6" y="519.4" font-size="10.9" fill="#000">Moonset</text>
<polygon points="138.17,467.30 140.29,471.49 144.92,472.21 141.59,475.51 142.34,480.14 138.17,478.00 134.00,480.14 134.75,475.51 131.42,472.21 136.05,471.49" fill="#7d6420"/><polygon points="140.81,470.76 142.45,475.79 138.17,478.90 133.89,475.79 135.52,470.76" fill="#bab63c" stroke="#7d6420" stroke-width="0.7"/>
<text x="145.17" y="477.8" font-size="9.3" fill="#000">5:03am</text>
<polygon points="214.78,467.30 216.90,471.49 221.54,472.21 218.21,475.51 218.96,480.14 214.78,478.00 210.61,480.14 211.36,475.51 208.03,472.21 212.67,471.49" fill="#7d6420"/><polygon points="217.43,470.76 219.06,475.79 214.78,478.90 210.50,475.79 212.14,470.76" fill="#bab63c" stroke="#7d6420" stroke-width="0.7"/>
<text x="221.78" y="477.8" font-size="9.3" fill="#000">5:04am</text>
<polygon points="291.34,467.30 293.46,471.49 298.10,472.21 294.77,475.51 295.52,480.14 291.34,478.00 287.17,480.14 287.92,475.51 284.59,472.21 289.23,471.49" fill="#7d6420"/><polygon points="293.99,470.76 295.62,475.79 291.34,478.90 287.06,475.79 288.70,470.76" fill="#bab63c" stroke="#7d6420" stroke-width="0.7"/>
<text x="298.34" y="477.8" font-size="9.3" fill="#000">5:04am</text>
<polygon points="367.96,467.30 370.07,471.49 374.71,472.21 371.38,475.51 372.13,480.14 367.96,478.00 363.78,480.14 364.53,475.51 361.20,472.21 365.84,471.49" fill="#7d6420"/><polygon points="370.60,470.76 372.24,475.79 367.96,478.90 363.68,475.79 365.31,470.76" fill="#bab63c" stroke="#7d6420" stroke-width="0.7"/>
<text x="374.96" y="477.8" font-size="9.3" fill="#000">5:05am</text>
<polygon points="444.52,467.30 446.63,471.49 451.27,472.21 447.94,475.51 448.69,480.14 444.52,478.00 440.34,480.14 441.09,475.51 437.76,472.21 442.40,471.49" fill="#7d6420"/><polygon points="447.16,470.76 448.80,475.79 444.52,478.90 440.24,475.79 441.87,470.76" fill="#bab63c" stroke="#7d6420" stroke-width="0.7"/>
<text x="451.52" y="477.8" font-size="9.3" fill="#000">5:05am</text>
<polygon points="521.13,467.30 523.25,471.49 527.88,472.21 524.55,475.51 525.30,480.14 521.13,478.00 516.96,480.14 517.71,475.51 514.38,472.21 519.01,471.49" fill="#7d6420"/><polygon points="523.77,470.76 525.41,475.79 521.13,478.90 516.85,475.79 518.48,470.76" fill="#bab63c" stroke="#7d6420" stroke-width="0.7"/>
<text x="528.13" y="477.8" font-size="9.3" fill="#000">5:06am</text>
<polygon points="597.69,467.30 599.81,471.49 604.44,472.21 601.11,475.51 601.86,480.14 597.69,478.00 593.52,480.14 594.27,475.51 590.94,472.21 595.57,471.49" fill="#7d6420"/><polygon points="600.33,470.76 601.97,475.79 597.69,478.90 593.41,475.79 595.04,470.76" fill="#bab63c" stroke="#7d6420" stroke-width="0.7"/>
<text x="604.69" y="477.8" font-size="9.3" fill="#000">5:06am</text>
<polygon points="674.30,467.30 676.42,471.49 681.05,472.21 677.73,475.51 678.48,480.14 674.30,478.00 670.13,480.14 670.88,475.51 667.55,472.21 672.19,471.49" fill="#7d6420"/><polygon points="676.95,470.76 678.58,475.79 674.30,478.90 670.02,475.79 671.66,470.76" fill="#bab63c" stroke="#7d6420" stroke-width="0.7"/>
<text x="681.30" y="477.8" font-size="9.3" fill="#000">5:07am</text>
<polygon points="110.68,481.20 112.80,485.39 117.43,486.11 114.11,489.41 114.86,494.04 110.68,491.90 106.51,494.04 107.26,489.41 103.93,486.11 108.57,485.39" fill="#7d6420"/><polygon points="113.33,484.66 114.96,489.69 110.68,492.80 106.40,489.69 108.04,484.66" fill="#d9643a" stroke="#7d6420" stroke-width="0.7"/>
<text x="117.68" y="492.3" font-size="9.3" fill="#000">8:26pm</text>
<polygon points="187.24,481.20 189.36,485.39 193.99,486.11 190.67,489.41 191.42,494.04 187.24,491.90 183.07,494.04 183.82,489.41 180.49,486.11 185.13,485.39" fill="#7d6420"/><polygon points="189.89,484.66 191.52,489.69 187.24,492.80 182.96,489.69 184.60,484.66" fill="#d9643a" stroke="#7d6420" stroke-width="0.7"/>
<text x="194.24" y="492.3" font-size="9.3" fill="#000">8:26pm</text>
<polygon points="263.80,481.20 265.92,485.39 270.55,486.11 267.23,489.41 267.98,494.04 263.80,491.90 259.63,494.04 260.38,489.41 257.05,486.11 261.69,485.39" fill="#7d6420"/><polygon points="266.45,484.66 268.08,489.69 263.80,492.80 259.52,489.69 261.16,484.66" fill="#d9643a" stroke="#7d6420" stroke-width="0.7"/>
<text x="270.80" y="492.3" font-size="9.3" fill="#000">8:26pm</text>
<polygon points="340.36,481.20 342.48,485.39 347.11,486.11 343.79,489.41 344.54,494.04 340.36,491.90 336.19,494.04 336.94,489.41 333.61,486.11 338.25,485.39" fill="#7d6420"/><polygon points="343.01,484.66 344.64,489.69 340.36,492.80 336.08,489.69 337.72,484.66" fill="#d9643a" stroke="#7d6420" stroke-width="0.7"/>
<text x="347.36" y="492.3" font-size="9.3" fill="#000">8:26pm</text>
<polygon points="416.92,481.20 419.04,485.39 423.67,486.11 420.35,489.41 421.10,494.04 416.92,491.90 412.75,494.04 413.50,489.41 410.17,486.11 414.81,485.39" fill="#7d6420"/><polygon points="419.57,484.66 421.20,489.69 416.92,492.80 412.64,489.69 414.28,484.66" fill="#d9643a" stroke="#7d6420" stroke-width="0.7"/>
<text x="423.92" y="492.3" font-size="9.3" fill="#000">8:26pm</text>
<polygon points="493.48,481.20 495.60,485.39 500.23,486.11 496.91,489.41 497.66,494.04 493.48,491.90 489.31,494.04 490.06,489.41 486.73,486.11 491.37,485.39" fill="#7d6420"/><polygon points="496.13,484.66 497.76,489.69 493.48,492.80 489.20,489.69 490.84,484.66" fill="#d9643a" stroke="#7d6420" stroke-width="0.7"/>
<text x="500.48" y="492.3" font-size="9.3" fill="#000">8:26pm</text>
<polygon points="569.99,481.20 572.11,485.39 576.74,486.11 573.41,489.41 574.16,494.04 569.99,491.90 565.82,494.04 566.57,489.41 563.24,486.11 567.87,485.39" fill="#7d6420"/><polygon points="572.63,484.66 574.27,489.69 569.99,492.80 565.71,489.69 567.34,484.66" fill="#d9643a" stroke="#7d6420" stroke-width="0.7"/>
<text x="576.99" y="492.3" font-size="9.3" fill="#000">8:25pm</text>
<polygon points="646.55,481.20 648.67,485.39 653.30,486.11 649.97,489.41 650.72,494.04 646.55,491.90 642.38,494.04 643.13,489.41 639.80,486.11 644.43,485.39" fill="#7d6420"/><polygon points="649.19,484.66 650.83,489.69 646.55,492.80 642.27,489.69 643.90,484.66" fill="#d9643a" stroke="#7d6420" stroke-width="0.7"/>
<text x="653.55" y="492.3" font-size="9.3" fill="#000">8:25pm</text>
<circle cx="119.61" cy="502.1" r="5.1" fill="#ffffcc" stroke="#8a8a8a" stroke-width="0.9"/>
<text x="127.11" y="506.0" font-size="9.3" fill="#000">11:14pm</text>
<circle cx="198.04" cy="502.1" r="5.1" fill="#ffffcc" stroke="#8a8a8a" stroke-width="0.9"/>
<text x="205.54" y="506.0" font-size="9.3" fill="#000">11:49pm</text>
<circle cx="276.35" cy="502.1" r="5.1" fill="#ffffcc" stroke="#8a8a8a" stroke-width="0.9"/>
<text x="283.85" y="506.0" font-size="9.3" fill="#000">12:22am</text>
<circle cx="354.72" cy="502.1" r="5.1" fill="#ffffcc" stroke="#8a8a8a" stroke-width="0.9"/>
<text x="362.22" y="506.0" font-size="9.3" fill="#000">12:56am</text>
<circle cx="433.08" cy="502.1" r="5.1" fill="#ffffcc" stroke="#8a8a8a" stroke-width="0.9"/>
<text x="440.58" y="506.0" font-size="9.3" fill="#000">1:30am</text>
<circle cx="511.67" cy="502.1" r="5.1" fill="#ffffcc" stroke="#8a8a8a" stroke-width="0.9"/>
<text x="519.17" y="506.0" font-size="9.3" fill="#000">2:08am</text>
<circle cx="590.46" cy="502.1" r="5.1" fill="#ffffcc" stroke="#8a8a8a" stroke-width="0.9"/>
<text x="597.96" y="506.0" font-size="9.3" fill="#000">2:50am</text>
<circle cx="669.52" cy="502.1" r="5.1" fill="#ffffcc" stroke="#8a8a8a" stroke-width="0.9"/>
<text x="677.02" y="506.0" font-size="9.3" fill="#000">3:37am</text>
<circle cx="155.29" cy="515.6" r="5.1" fill="#cac6ba" stroke="#7a7a7a" stroke-width="0.9"/>
<text x="162.79" y="519.6" font-size="9.3" fill="#000">10:25am</text>
<circle cx="235.46" cy="515.6" r="5.1" fill="#cac6ba" stroke="#7a7a7a" stroke-width="0.9"/>
<text x="242.96" y="519.6" font-size="9.3" fill="#000">11:33am</text>
<circle cx="315.69" cy="515.6" r="5.1" fill="#cac6ba" stroke="#7a7a7a" stroke-width="0.9"/>
<text x="323.19" y="519.6" font-size="9.3" fill="#000">12:42pm</text>
<circle cx="395.92" cy="515.6" r="5.1" fill="#cac6ba" stroke="#7a7a7a" stroke-width="0.9"/>
<text x="403.42" y="519.6" font-size="9.3" fill="#000">1:51pm</text>
<circle cx="476.26" cy="515.6" r="5.1" fill="#cac6ba" stroke="#7a7a7a" stroke-width="0.9"/>
<text x="483.76" y="519.6" font-size="9.3" fill="#000">3:02pm</text>
<circle cx="556.59" cy="515.6" r="5.1" fill="#cac6ba" stroke="#7a7a7a" stroke-width="0.9"/>
<text x="564.09" y="519.6" font-size="9.3" fill="#000">4:13pm</text>
<circle cx="636.87" cy="515.6" r="5.1" fill="#cac6ba" stroke="#7a7a7a" stroke-width="0.9"/>
<text x="644.37" y="519.6" font-size="9.3" fill="#000">5:23pm</text>
<text x="265.82" y="532.7" font-size="9.3" fill="#000" xml:space="preserve">Last Quarter |2:20pm</text>
</svg></body></html>
